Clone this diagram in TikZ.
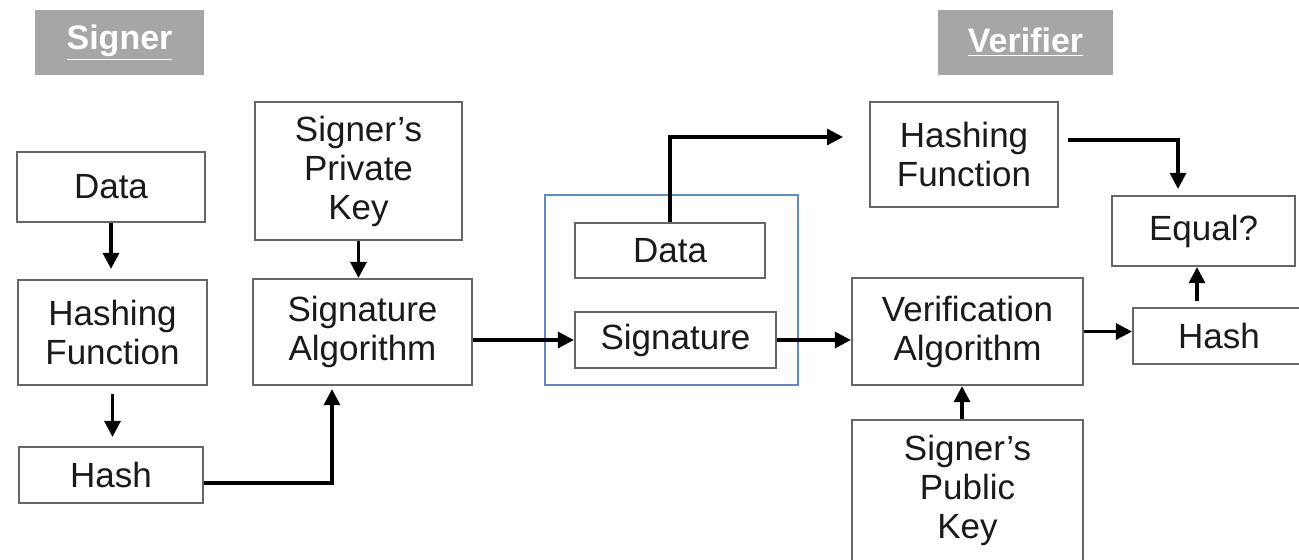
\documentclass[tikz,border=0pt]{standalone}
\usepackage{fontspec}
\setmainfont{Liberation Sans}
\usetikzlibrary{arrows.meta}
\definecolor{boxline}{HTML}{666666}
\definecolor{lblfill}{HTML}{A6A6A6}
\definecolor{bluebox}{HTML}{5B8DBE}
\definecolor{txt}{HTML}{1A1A1A}
\tikzset{
  box/.style={draw=boxline, line width=1.1pt, fill=white, text=txt, align=center, inner sep=0pt,
    font=\fontsize{17.5pt}{19.5pt}\selectfont},
  plain/.style={text=txt, align=center, inner sep=0pt, font=\fontsize{17.5pt}{19.5pt}\selectfont},
  lbl/.style={fill=lblfill, text=white, inner sep=0pt, font=\bfseries\fontsize{17pt}{19.5pt}\selectfont},
  arr/.style={line width=1.6pt, black, -{Triangle[length=8pt,width=8pt]}},
}
\begin{document}
\begin{tikzpicture}[x=0.5pt,y=-0.5pt]
\useasboundingbox (0,0) rectangle (1299,559);
\fill[white] (0,0) rectangle (1299,559);

% role labels
\node[lbl, minimum width=84.5pt, minimum height=32.5pt] (signer) at (119.5,42.5) {\raisebox{-1.5pt}{\underline{Signer}}};
\node[lbl, minimum width=87.5pt, minimum height=32.5pt] (verifier) at (1025.5,42.5) {\raisebox{-1.5pt}{\underline{Verifier}}};

% signer side
\node[box, minimum width=94pt, minimum height=35pt] (dataL) at (111,187) {Data};
\node[box, minimum width=94.5pt, minimum height=52.5pt] (hashfL) at (112.5,332.5) {Hashing\\Function};
\node[box, minimum width=92pt, minimum height=28pt] (hashL) at (111,475) {Hash};
\node[box, minimum width=103.5pt, minimum height=69pt] (priv) at (358.5,171) {Signer’s\\Private\\Key};
\node[box, minimum width=109.5pt, minimum height=53pt] (sigalg) at (362.5,332) {Signature\\Algorithm};

% transmitted package
\node[draw=bluebox, line width=1.1pt, minimum width=126.5pt, minimum height=95pt, inner sep=0pt] (pkg) at (671.5,290) {};
\node[box, minimum width=95pt, minimum height=27.5pt] (dataI) at (670,250.5) {Data};
\node[box, minimum width=100.5pt, minimum height=28pt] (sigI) at (675.5,340) {Signature};

% verifier side
\node[box, minimum width=94pt, minimum height=52.5pt] (hashfR) at (964,154.5) {Hashing\\Function};
\node[box, minimum width=91.5pt, minimum height=35pt] (equal) at (1203.5,231) {Equal?};
\node[box, minimum width=115.5pt, minimum height=53.5pt] (verif) at (967.5,331.5) {Verification\\Algorithm};
\node[box, minimum width=86pt, minimum height=28pt] (hashR) at (1219,336) {Hash};
\node[box, minimum width=115.5pt, minimum height=80pt] (pub) at (967.5,500) {};
\node[plain] (pubt) at (967.5,490) {Signer’s\\Public\\Key};

% connectors, signer side
\draw[arr, shorten >=5pt] (dataL.south) -- (dataL.south |- hashfL.north);
\draw[arr, shorten <=4pt, shorten >=4.5pt] (hashfL.south) -- (hashfL.south |- hashL.north);
\draw[arr, shorten >=1.5pt] ([yshift=-4pt]hashL.east) -| ([xshift=-15.25pt]sigalg.south);
\draw[arr] (priv.south) -- (priv.south |- sigalg.north);
\draw[arr] (sigalg.east |- sigI.west) -- (sigI.west);

% connectors, package to verifier
\coordinate (dataout) at (843,137);
\draw[arr] (dataI.north) |- (dataout);
\draw[arr] (sigI.east) -- (sigI.east -| verif.west);

% connectors, verifier side
\draw[arr, shorten <=4.5pt, shorten >=3pt] ([yshift=7.25pt]hashfR.east) -| ([xshift=-12.75pt]equal.north);
\draw[arr, shorten <=3pt] ([xshift=-3.25pt]equal.south |- hashR.north) -- ([xshift=-3.25pt]equal.south);
\draw[arr] (verif.east) -- (verif.east -| hashR.west);
\draw[arr] ([xshift=-2.75pt]pub.north) -- ([xshift=-2.75pt]verif.south);
\end{tikzpicture}
\end{document}
